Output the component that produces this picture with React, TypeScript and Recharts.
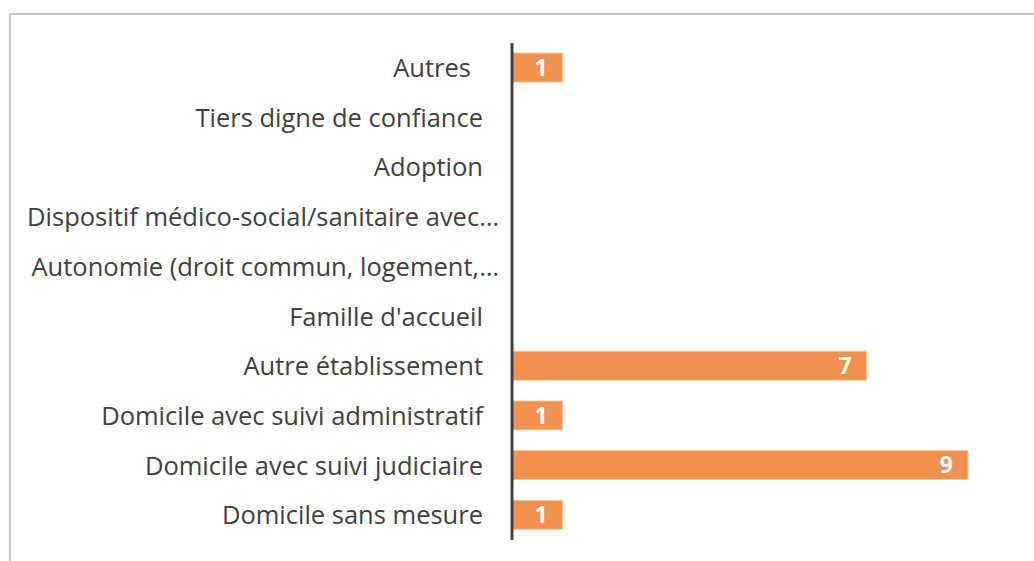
import { BarChart, Bar, XAxis, YAxis, LabelList } from 'recharts'

const categories = [
  'Autres',
  'Tiers digne de confiance',
  'Adoption',
  'Dispositif médico-social/sanitaire avec…',
  'Autonomie (droit commun, logement,…',
  "Famille d'accueil",
  'Autre établissement',
  'Domicile avec suivi administratif',
  'Domicile avec suivi judiciaire',
  'Domicile sans mesure',
]
const counts = [1, 0, 0, 0, 0, 0, 7, 1, 9, 1]

const data = categories.map((name, i) => ({ name, value: counts[i] }))

// Excel pushes the truncated labels right up to the axis, and "Autres" has a trailing gap
function CategoryTick(props: any) {
  const { x, y, payload } = props
  const label: string = payload.value
  let dx = 0
  if (label.endsWith('…')) dx = 16
  if (label === 'Autres') dx = -12
  return (
    <text
      x={x + dx}
      y={y}
      dy="0.36em"
      textAnchor="end"
      fill="#404040"
      fontSize={25.5}
      fontFamily="'Open Sans', sans-serif"
    >
      {label}
    </text>
  )
}

export default function App() {
  return (
    <div style={{ position: 'absolute', left: 0, top: 0, width: 1034, height: 561, background: '#fff', overflow: 'hidden' }}>
      <div
        style={{
          position: 'absolute',
          left: 9,
          top: 13,
          width: 1100,
          height: 600,
          borderLeft: '2px solid #c9c9c9',
          borderTop: '2px solid #c9c9c9',
        }}
      />
      <BarChart
        layout="vertical"
        width={1034}
        height={561}
        data={data}
        margin={{ top: 43, right: 66, bottom: 21, left: 0 }}
        style={{ position: 'absolute', left: 0, top: 0 }}
      >
        <XAxis type="number" domain={[0, 9]} hide />
        <YAxis
          type="category"
          dataKey="name"
          width={512}
          tickLine={false}
          tickSize={0}
          tickMargin={29}
          axisLine={{ stroke: '#404040', strokeWidth: 3 }}
          tick={<CategoryTick />}
          interval={0}
        />
        <Bar dataKey="value" fill="#f0914f" stroke="#f9c9a5" strokeWidth={1} barSize={29} isAnimationActive={false}>
          <LabelList
            dataKey="value"
            position="insideRight"
            offset={15}
            formatter={(v: any) => (v ? v : '')}
            style={{ fill: '#fff', fontSize: 23, fontWeight: 700, fontFamily: "'Open Sans', sans-serif" }}
          />
        </Bar>
      </BarChart>
    </div>
  )
}
